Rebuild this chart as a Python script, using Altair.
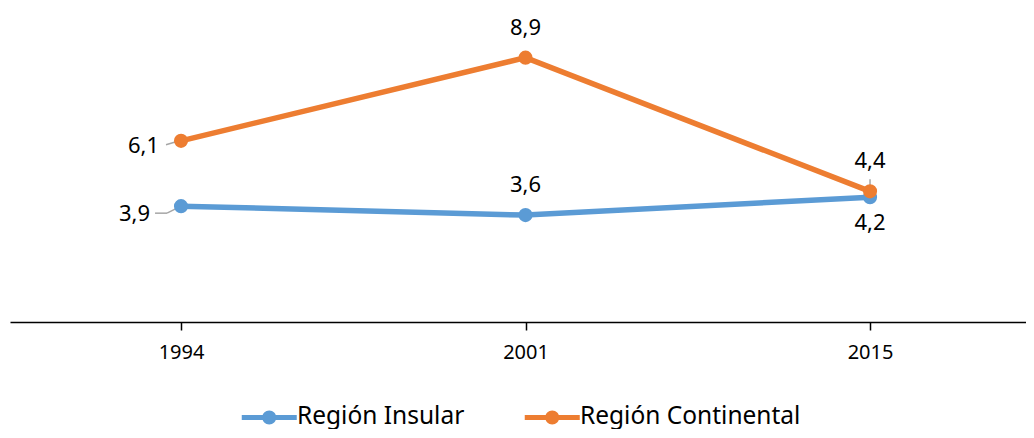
import altair as alt
import pandas as pd

years = ["1994", "2001", "2015"]
insular = [3.9, 3.6, 4.2]
continental = [6.1, 8.9, 4.4]
series_names = ["Región Insular", "Región Continental"]
colors = ["#5B9BD5", "#ED7D31"]
label_text_ins = ["3,9", "3,6", "4,2"]
label_text_con = ["6,1", "8,9", "4,4"]
label_pos_ins = ["leftfar", "above", "below"]
label_pos_con = ["left", "above", "above"]

rows = []
for i, y in enumerate(years):
    rows.append({"year": y, "value": insular[i], "series": series_names[0],
                 "label": label_text_ins[i], "pos": label_pos_ins[i]})
for i, y in enumerate(years):
    rows.append({"year": y, "value": continental[i], "series": series_names[1],
                 "label": label_text_con[i], "pos": label_pos_con[i]})
df = pd.DataFrame(rows)

FONT = "Noto Sans"
LEADER = "#A6A6A6"

# legend glyph: line with a dot (unit = 10px at symbolSize 400)
path_sym = ("M-2.75,-0.25 H2.75 V0.25 H-2.75 Z "
            "M0.7,0 A0.7,0.7 0 1,1 -0.7,0 A0.7,0.7 0 1,1 0.7,0 Z")

x_enc = alt.X("year:N", sort=years,
              scale=alt.Scale(type="point", padding=0.4746, align=0.523),
              axis=alt.Axis(title=None, labelAngle=0, labelFontSize=20, labelFont=FONT,
                            labelColor="#000000", domainColor="#000000", domainWidth=1.5,
                            tickColor="#000000", tickWidth=1.5, tickSize=8,
                            labelPadding=12, grid=False))
y_enc = alt.Y("value:Q", scale=alt.Scale(domain=[0, 10], nice=False), axis=None)
color_scale = alt.Scale(domain=series_names, range=colors)

leg = alt.Legend(title=None, orient="none", direction="horizontal",
                 legendX=247, legendY=380,
                 symbolType=path_sym, symbolSize=400,
                 symbolStrokeWidth=0, labelFontSize=24.5, labelLimit=0,
                 labelFont=FONT, labelColor="#000000",
                 columnPadding=59, labelOffset=15.5)

base = alt.Chart(df)

lines = base.mark_line(strokeWidth=5.5).encode(
    x=x_enc, y=y_enc,
    color=alt.Color("series:N", scale=color_scale, legend=leg),
)

points = base.mark_point(filled=True, size=200, opacity=1).encode(
    x=x_enc, y=y_enc,
    color=alt.Color("series:N", scale=color_scale, legend=leg),
)

txt_kw = dict(fontSize=22, font=FONT, color="#000000")
lab_left = base.mark_text(align="right", baseline="middle", dx=-22, dy=5, **txt_kw).encode(
    x=x_enc, y=y_enc, text="label:N").transform_filter(alt.datum.pos == "left")
lab_leftfar = base.mark_text(align="right", baseline="middle", dx=-31, dy=8, **txt_kw).encode(
    x=x_enc, y=y_enc, text="label:N").transform_filter(alt.datum.pos == "leftfar")
lab_above = base.mark_text(align="center", baseline="bottom", dy=-18, **txt_kw).encode(
    x=x_enc, y=y_enc, text="label:N").transform_filter(alt.datum.pos == "above")
lab_below = base.mark_text(align="center", baseline="top", dy=16, **txt_kw).encode(
    x=x_enc, y=y_enc, text="label:N").transform_filter(alt.datum.pos == "below")

lead_6 = base.mark_rule(color=LEADER, strokeWidth=1.5, xOffset=-15, x2Offset=-5,
                        yOffset=4, y2Offset=1).encode(
    x=x_enc, x2=alt.X2("year:N"), y=y_enc, y2=alt.Y2("value:Q")
).transform_filter((alt.datum.label == "6,1"))
lead_39a = base.mark_rule(color=LEADER, strokeWidth=1.5, xOffset=-26, x2Offset=-14,
                          yOffset=7, y2Offset=7).encode(
    x=x_enc, x2=alt.X2("year:N"), y=y_enc, y2=alt.Y2("value:Q")
).transform_filter((alt.datum.label == "3,9"))
lead_39b = base.mark_rule(color=LEADER, strokeWidth=1.5, xOffset=-14, x2Offset=-4,
                          yOffset=7, y2Offset=2).encode(
    x=x_enc, x2=alt.X2("year:N"), y=y_enc, y2=alt.Y2("value:Q")
).transform_filter((alt.datum.label == "3,9"))
lead_44 = base.mark_rule(color=LEADER, strokeWidth=1.5, yOffset=-12, y2Offset=-3).encode(
    x=x_enc, x2=alt.X2("year:N"), y=y_enc, y2=alt.Y2("value:Q")
).transform_filter((alt.datum.label == "4,4"))

chart = alt.layer(
    lead_6, lead_39a, lead_39b, lead_44, lines, points,
    lab_left, lab_leftfar, lab_above, lab_below
).properties(
    width=1016, height=297,
    padding={"left": 2, "top": 8, "right": 0, "bottom": 0},
).configure(background="#FFFFFF").configure_view(stroke=None)

chart.save("out.html", embed_options={"renderer": "svg", "actions": False})
